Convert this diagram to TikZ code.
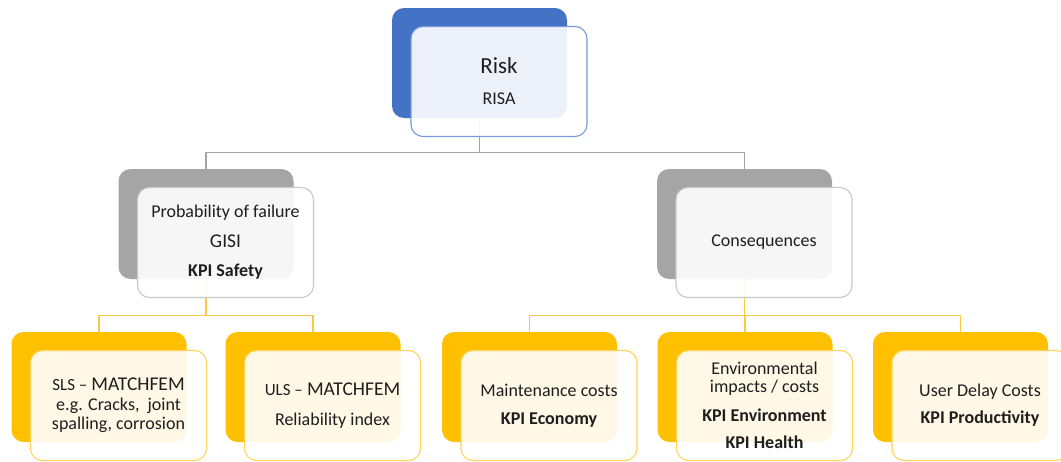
\documentclass[tikz,border=0pt]{standalone}
\usepackage{fontspec}
\setmainfont{Carlito}
\usepackage{xcolor}
\usetikzlibrary{positioning}
\definecolor{riskblue}{RGB}{68,114,196}
\definecolor{riskedge}{RGB}{118,152,220}
\definecolor{midgray}{RGB}{165,165,165}
\definecolor{midedge}{RGB}{200,200,200}
\definecolor{kpiyellow}{RGB}{255,192,0}
\definecolor{kpiedge}{RGB}{255,212,90}
\definecolor{kpiline}{RGB}{250,202,70}
\definecolor{txt}{RGB}{30,30,30}

\tikzset{
  backbox/.style={rounded corners=12, minimum width=175, minimum height=110, inner sep=0},
  frontbox/.style={rounded corners=12, minimum width=176, minimum height=110, inner sep=0,
    fill=white, fill opacity=0.9, text opacity=1, line width=1.1, align=center, text=txt,
    font=\fontsize{18}{18}\selectfont, shift={(19.5,18.5)}},
  tree/.style={line width=1.1}
}

\begin{document}
\begin{tikzpicture}[x=1pt,y=-1pt]
  \clip (0,0) rectangle (1061,461);
  % back layer
  \node[backbox,fill=riskblue] (riskback) at (479.5,63) {};
  \node[backbox,fill=midgray] (pfback) at (206,224) {};
  \node[backbox,fill=midgray] (consback) at (744.5,224) {};
  \foreach \n/\x in {sls/99,uls/313,maint/529.5,env/745,user/960.5}
    \node[backbox,fill=kpiyellow] (\n back) at (\x,387) {};
  % connectors
  \draw[tree,midgray] (riskback.south) -- ++(0,34) -| (pfback.north);
  \draw[tree,midgray] (riskback.south) -- ++(0,34) -| (consback.north);
  \draw[tree,kpiline] (pfback.south) -- ++(0,36) -| (slsback.north);
  \draw[tree,kpiline] (pfback.south) -- ++(0,36) -| (ulsback.north);
  \foreach \n in {maint,env,user}
    \draw[tree,kpiline] (consback.south) -- ++(0,36) -| (\n back.north);
  % front layer
  \node[frontbox,draw=riskedge] (risk) at (riskback)
    {{\fontsize{23}{23}\selectfont Risk}\\[13pt]RISA};
  \node[frontbox,draw=midedge] (pf) at (pfback)
    {Probability of failure\\[11.5pt]{\fontsize{19.5}{20}\selectfont GISI}\\[11.5pt]\textbf{KPI Safety}};
  \node[frontbox,draw=midedge] (cons) at (consback) {Consequences};
  \node[frontbox,draw=kpiedge] (sls) at (slsback)
    {{\fontsize{17}{18}\selectfont SLS --} {\fontsize{19.5}{20}\selectfont MATCHFEM}\\[1.5pt]e.g. Cracks,~ joint\\[1.5pt]spalling, corrosion};
  \node[frontbox,draw=kpiedge] (uls) at (ulsback)
    {{\fontsize{17}{18}\selectfont ULS --} {\fontsize{19.5}{20}\selectfont MATCHFEM}\\[12pt]Reliability index};
  \node[frontbox,draw=kpiedge] (maint) at (maintback)
    {Maintenance costs\\[10pt]\textbf{KPI Economy}};
  \node[frontbox,draw=kpiedge] (env) at (envback)
    {Environmental\\impacts / costs\\[11pt]\textbf{KPI Environment}\\[9pt]\textbf{KPI Health}};
  \node[frontbox,draw=kpiedge] (user) at (userback)
    {User Delay Costs\\[9pt]\textbf{KPI Productivity}};
\end{tikzpicture}
\end{document}
